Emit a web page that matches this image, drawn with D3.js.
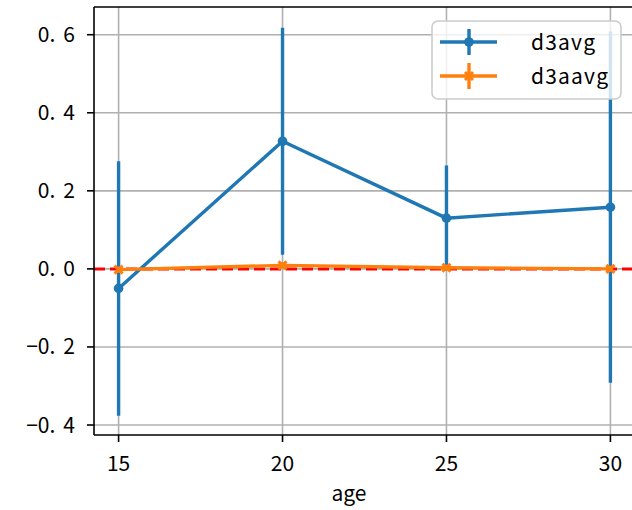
<!DOCTYPE html>
<html><head><meta charset="utf-8">
<script src="https://cdn.jsdelivr.net/npm/d3@7"></script>
<style>
body{margin:0;background:#fff;}
svg{display:block;font-family:"Noto Sans CJK JP","Noto Sans",sans-serif;font-weight:400;}
</style></head>
<body><svg id="c" width="632" height="510"></svg>
<script>
const ages = [15, 20, 25, 30];
const d3avg = [-0.05, 0.327, 0.13, 0.158];
const d3avgErr = [0.326, 0.291, 0.135, 0.45];
const d3aavg = [-0.002, 0.009, 0.003, 0.0];
const d3aavgErr = [0.008, 0.008, 0.008, 0.008];
const xTicks = [15, 20, 25, 30];
const yTicks = [-0.4, -0.2, 0.0, 0.2, 0.4, 0.6];
const seriesNames = ["d3avg", "d3aavg"];
const colors = ["#1f77b4", "#ff7f0e"];

const svg = d3.select("#c");
const L = 94, R = 635, T = 7, B = 435;
const x = d3.scaleLinear().domain([14.25, 30.75]).range([L, R]);
const y = d3.scaleLinear().domain([-0.4256, 0.671]).range([B, T]);

svg.append("defs").append("clipPath").attr("id","clip")
  .append("rect").attr("x",L).attr("y",T).attr("width",R-L).attr("height",B-T);

// grid
const g = svg.append("g");
g.selectAll(".gx").data(xTicks).join("line")
  .attr("x1",d=>x(d)).attr("x2",d=>x(d)).attr("y1",T).attr("y2",B)
  .attr("stroke","#b0b0b0").attr("stroke-width",1.6);
g.selectAll(".gy").data(yTicks).join("line")
  .attr("x1",L).attr("x2",R).attr("y1",d=>y(d)).attr("y2",d=>y(d))
  .attr("stroke","#b0b0b0").attr("stroke-width",1.6);

const plot = svg.append("g").attr("clip-path","url(#clip)");

// red dashed zero line
plot.append("line").attr("x1",L).attr("x2",R).attr("y1",y(0)).attr("y2",y(0))
  .attr("stroke","red").attr("stroke-width",3).attr("stroke-dasharray","11,5");

function drawSeries(vals, errs, color, marker){
  const gg = plot.append("g");
  gg.selectAll("line.err").data(ages).join("line")
    .attr("x1",d=>x(d)).attr("x2",d=>x(d))
    .attr("y1",(d,i)=>y(vals[i]-errs[i])).attr("y2",(d,i)=>y(vals[i]+errs[i]))
    .attr("stroke",color).attr("stroke-width",3.4);
  gg.append("path").datum(ages)
    .attr("d", d3.line().x(d=>x(d)).y((d,i)=>y(vals[i])))
    .attr("fill","none").attr("stroke",color).attr("stroke-width",3.4);
  if(marker==="o"){
    gg.selectAll("circle").data(ages).join("circle")
      .attr("cx",d=>x(d)).attr("cy",(d,i)=>y(vals[i])).attr("r",4.8).attr("fill",color);
  } else {
    gg.selectAll("path.m").data(ages).join("path")
      .attr("d",(d,i)=>{const cx=x(d), cy=y(vals[i]), s=4;
        return `M${cx-s},${cy-s}L${cx+s},${cy+s}M${cx-s},${cy+s}L${cx+s},${cy-s}`;})
      .attr("stroke",color).attr("stroke-width",3);
  }
}
drawSeries(d3avg, d3avgErr, colors[0], "o");
drawSeries(d3aavg, d3aavgErr, colors[1], "x");

// spines
svg.append("line").attr("x1",L).attr("x2",L).attr("y1",T).attr("y2",B).attr("stroke","#000").attr("stroke-width",1.6);
svg.append("line").attr("x1",L).attr("x2",R).attr("y1",T).attr("y2",T).attr("stroke","#000").attr("stroke-width",1.6);
svg.append("line").attr("x1",L).attr("x2",R).attr("y1",B).attr("y2",B).attr("stroke","#000").attr("stroke-width",1.6);

// ticks
svg.selectAll(".tx").data(xTicks).join("line")
  .attr("x1",d=>x(d)).attr("x2",d=>x(d)).attr("y1",B).attr("y2",B+7)
  .attr("stroke","#000").attr("stroke-width",1.6);
svg.selectAll(".txl").data(xTicks).join("text")
  .attr("x",d=>x(d)).attr("y",471).attr("text-anchor","middle")
  .attr("font-size",21).attr("fill","#000").text(d=>d);
svg.selectAll(".ty").data(yTicks).join("line")
  .attr("x1",L-7).attr("x2",L).attr("y1",d=>y(d)).attr("y2",d=>y(d))
  .attr("stroke","#000").attr("stroke-width",1.6);
const yl = svg.selectAll(".tyl").data(yTicks).join("text")
  .attr("x",75).attr("y",d=>y(d)+7.5).attr("text-anchor","end")
  .attr("font-size",21).attr("fill","#000");
yl.each(function(d){
  const s = d3.format(".1f")(d).replace("-","\u2212");
  const parts = s.split(".");
  const t = d3.select(this);
  t.append("tspan").text(parts[0]+".");
  t.append("tspan").attr("dx",8).text(parts[1]);
});

// x label
svg.append("text").attr("x",349).attr("y",501).attr("text-anchor","middle")
  .attr("font-size",21).attr("fill","#000").text("age");

// legend
const lg = svg.append("g");
lg.append("rect").attr("x",432).attr("y",21).attr("width",189).attr("height",78).attr("rx",6)
  .attr("fill","#fff").attr("fill-opacity",0.8).attr("stroke","#cccccc").attr("stroke-width",1.6);
seriesNames.forEach((n,i)=>{
  const cy = 42 + i*34, c = colors[i];
  lg.append("line").attr("x1",440).attr("x2",497).attr("y1",cy).attr("y2",cy).attr("stroke",c).attr("stroke-width",3.4);
  lg.append("line").attr("x1",469).attr("x2",469).attr("y1",cy-13).attr("y2",cy+13).attr("stroke",c).attr("stroke-width",3.4);
  if(i===0) lg.append("circle").attr("cx",469).attr("cy",cy).attr("r",4.8).attr("fill",c);
  else lg.append("path").attr("d",`M465,${cy-4}L473,${cy+4}M465,${cy+4}L473,${cy-4}`).attr("stroke",c).attr("stroke-width",3);
  lg.append("text").attr("x",531).attr("y",cy+7.5).attr("font-size",21)
    .attr("letter-spacing",1.2).attr("fill","#000").text(n);
});
</script></body></html>
